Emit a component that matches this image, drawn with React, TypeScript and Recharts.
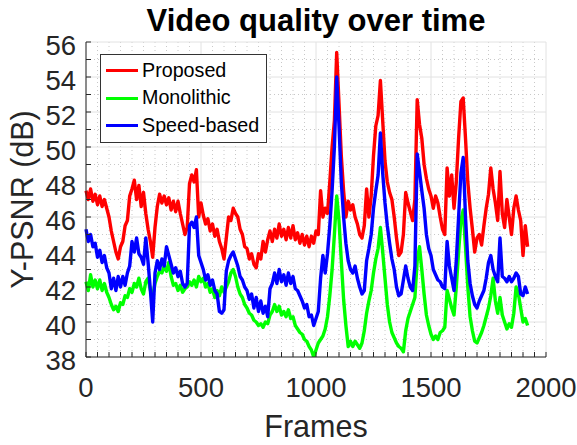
import React from 'react';
import { LineChart, Line, XAxis, YAxis, CartesianGrid, Legend } from 'recharts';

// frame index of every sample (one sample per 10 frames)
const FRAMES = Array.from({ length: 193 }, (_, i) => i * 10);

const PROPOSED = [
  47.5, 47.0, 47.6, 46.9, 47.3, 46.7, 47.2, 46.6, 47.0, 46.5,
  46.0, 45.2, 44.6, 44.0, 43.6, 44.3, 44.6, 45.5, 45.8, 47.2,
  47.6, 48.1, 47.0, 47.8, 46.6, 47.4, 46.2, 45.3, 44.6, 43.7,
  45.4, 46.6, 47.3, 46.8, 47.2, 46.7, 47.1, 46.4, 46.9, 46.3,
  46.9, 46.2, 45.6, 45.0, 45.4, 47.9, 48.4, 48.0, 48.7, 46.0,
  46.8, 46.1, 45.6, 45.9, 45.2, 45.6, 44.9, 45.3, 44.6, 44.2,
  43.6, 44.8, 46.0, 45.8, 46.5, 46.2, 46.0, 45.3, 45.0, 44.3,
  44.2, 43.6, 43.9, 43.3, 43.1, 43.9, 43.6, 44.6, 44.0, 44.7,
  45.2, 44.6, 45.3, 44.8, 45.6, 44.9, 45.3, 44.7, 45.4, 44.8,
  45.5, 44.7, 45.1, 44.5, 45.0, 44.4, 44.9, 44.3, 44.9, 44.5,
  45.2, 45.0, 47.5, 46.0, 46.5, 46.2, 48.0, 50.0, 51.5, 55.4,
  52.5, 49.5, 47.5, 46.0, 46.9, 46.4, 46.7, 46.0, 45.6, 45.0,
  44.8, 45.5, 47.6, 46.0, 47.2, 49.5, 51.2, 51.8, 53.8, 51.5,
  49.2, 48.0, 47.4, 47.0, 46.0, 44.8, 43.8, 44.0, 45.0, 47.4,
  46.8, 46.3, 45.8, 47.0, 52.7, 51.3, 50.5, 49.0, 48.2, 47.6,
  47.2, 46.5, 47.2, 46.8, 46.0, 45.3, 45.0, 48.8, 47.2, 48.4,
  46.5, 48.0, 50.5, 52.6, 52.8, 50.5, 48.0, 46.5, 45.3, 44.0,
  44.8, 45.0, 44.4, 45.5, 46.5, 47.3, 48.8, 47.6, 46.8, 45.8,
  48.6, 46.2, 45.4, 47.0, 46.0, 45.0, 46.5, 47.2, 46.4, 45.8,
  43.8, 45.5, 44.3,
];

const MONOLITHIC = [
  42.3, 41.8, 42.7, 42.0, 42.4, 41.9, 42.4, 41.8, 42.2, 41.7,
  41.4, 41.0, 40.7, 40.9, 40.6, 41.1, 41.0, 41.5, 41.4, 41.9,
  41.7, 42.2, 42.0, 42.5, 41.9, 41.6, 42.3, 42.5, 41.8, 41.5,
  42.2, 42.6, 42.9, 42.8, 43.2, 42.9, 43.4, 42.6, 42.1, 42.2,
  41.8, 42.1, 41.7, 41.9, 42.0, 42.3, 42.1, 42.4, 42.0, 42.6,
  42.3, 42.5, 42.0, 42.2, 41.7, 41.9, 41.4, 41.8, 41.5, 42.0,
  41.7, 42.0, 42.3, 42.8, 43.0, 42.6, 42.0, 41.6, 41.4, 41.0,
  40.8, 40.5, 40.4, 40.1, 40.0, 39.8, 39.9, 39.7, 40.0, 39.9,
  40.4, 40.6, 41.0, 40.6, 40.9, 40.4, 40.6, 40.3, 40.7, 40.2,
  40.3, 39.8, 39.6, 39.4, 39.3, 39.0, 38.9, 38.6, 38.4, 38.0,
  38.4, 38.8, 39.0, 39.2, 39.6, 40.3, 41.5, 43.0, 45.0, 47.2,
  45.8, 43.5, 41.3, 39.8, 38.6, 38.9, 38.6, 38.9, 38.7, 38.5,
  38.8, 39.5, 40.5, 41.2, 41.8, 42.8, 43.6, 44.2, 45.4, 44.0,
  42.5, 41.0, 40.0, 39.4, 39.1, 38.8, 38.6, 38.5, 38.3, 39.5,
  40.2, 40.6, 41.0, 41.4, 43.5, 44.3, 43.0, 41.6, 40.4, 39.8,
  39.3, 39.0, 39.2, 39.0, 39.4, 39.5, 39.7, 41.8, 41.3, 40.8,
  40.4, 42.0, 44.0, 45.8, 46.4, 44.3, 42.0, 40.3, 39.5, 38.9,
  38.8, 39.1, 39.4, 39.8, 40.3, 40.8, 41.5, 42.5, 41.2, 40.5,
  41.4, 40.4, 40.0, 39.6, 39.9, 39.7, 40.5, 42.0, 41.6, 40.8,
  40.0, 40.2, 39.8,
];

const SPEED_BASED = [
  45.3, 44.6, 45.0, 44.3, 44.5, 43.7, 44.1, 43.4, 43.8, 43.1,
  42.8, 41.9, 42.5, 41.8, 42.6, 42.0, 42.6, 42.1, 42.8, 43.2,
  44.6, 44.0, 44.8, 43.9, 43.7, 43.3, 44.8, 43.4, 41.8, 40.0,
  42.8, 43.5, 43.0, 43.6, 43.2, 44.3, 43.8, 43.3, 42.8, 43.1,
  42.6, 42.9, 42.2, 42.0, 42.2, 45.5, 45.7, 45.4, 46.0, 43.8,
  43.4, 43.0, 42.4, 42.7, 42.1, 42.4, 41.8, 41.6, 40.6, 40.5,
  40.7, 42.9, 43.5, 43.8, 44.0, 43.6, 43.2, 42.6, 42.4, 42.0,
  41.8, 41.3, 41.6, 40.8, 41.4, 40.6, 41.2, 40.5, 40.9, 40.3,
  41.9, 42.2, 42.8, 42.2, 43.0, 42.3, 42.7, 42.1, 42.8, 42.2,
  42.6, 41.9, 41.8, 41.5, 41.2, 40.8, 41.0, 40.3, 40.4, 39.8,
  40.2, 40.6, 42.5, 43.8, 42.8, 43.9, 45.5, 47.5, 50.0, 54.0,
  51.2, 48.0, 46.0, 44.5, 43.5, 43.0, 42.8, 43.2, 42.5, 42.0,
  41.6, 41.8, 43.5, 44.2, 45.0, 46.5, 47.5, 48.4, 50.8, 48.5,
  46.8, 45.5, 44.5, 43.6, 43.0, 42.0, 41.5, 41.6, 42.4, 43.2,
  42.5, 42.0, 41.8, 43.2, 49.6, 48.6, 47.5, 46.5, 45.0, 44.2,
  43.8, 43.0, 42.7, 42.4, 42.3, 42.0, 41.9, 44.6, 43.2, 42.5,
  41.8, 43.5, 46.0, 48.5, 49.4, 46.0, 43.5, 42.2, 41.5, 41.0,
  40.8, 41.2, 41.5, 41.8, 42.5, 43.4, 43.8, 43.0, 42.6, 42.3,
  44.8, 42.6, 42.5, 42.3, 42.6, 42.3, 42.5, 42.8, 42.6, 41.6,
  41.5, 42.0, 41.6,
];

const X_MAJOR = [0, 500, 1000, 1500, 2000];
const X_TICKS = Array.from({ length: 41 }, (_, i) => i * 50);
const X_MINOR = X_TICKS.filter((v) => v % 500 !== 0);
const Y_MAJOR = [38, 40, 42, 44, 46, 48, 50, 52, 54, 56];
const Y_TICKS = Array.from({ length: 19 }, (_, i) => 38 + i);
const Y_MINOR = Y_TICKS.filter((v) => v % 2 !== 0);

const SERIES = [
  { key: 'proposed', name: 'Proposed', color: '#ff0000' },
  { key: 'monolithic', name: 'Monolithic', color: '#00ff00' },
  { key: 'speed', name: 'Speed-based', color: '#0000ff' },
];
const SERIES_ORDER = SERIES.map((s) => s.name);

const data = FRAMES.map((frame, i) => ({
  frame,
  proposed: PROPOSED[i],
  monolithic: MONOLITHIC[i],
  speed: SPEED_BASED[i],
}));

const FONT = '"Liberation Sans", Arial, Helvetica, sans-serif';
const INK = '#262626';

function XTick({ x, y, payload }: any) {
  const v = payload.value;
  return (
    <g>
      <line x1={x} x2={x} y1={y} y2={y - 5} stroke={INK} strokeWidth={1} />
      {v % 500 === 0 && (
        <text x={x} y={y + 20} dy="0.71em" textAnchor="middle" fontSize={27.5} fill={INK} fontFamily={FONT}>
          {v}
        </text>
      )}
    </g>
  );
}

function YTick({ x, y, payload }: any) {
  const v = payload.value;
  return (
    <g>
      <line x1={x} x2={x + 5} y1={y} y2={y} stroke={INK} strokeWidth={1} />
      {v % 2 === 0 && (
        <text x={x - 10} y={y} dy="0.46em" textAnchor="end" fontSize={27.5} fill={INK} fontFamily={FONT}>
          {v}
        </text>
      )}
    </g>
  );
}

function LegendBox({ payload }: any) {
  const items = [...(payload || [])].sort(
    (a: any, b: any) => SERIES_ORDER.indexOf(a.value) - SERIES_ORDER.indexOf(b.value)
  );
  return (
    <div
      style={{
        width: 165,
        height: 85,
        border: '1px solid #333',
        background: '#fff',
        boxSizing: 'content-box',
        paddingTop: 2,
      }}
    >
      {items.map((p: any) => (
        <div key={p.value} style={{ display: 'flex', alignItems: 'center', height: 27.5 }}>
          <span style={{ display: 'inline-block', width: 32, height: 3, background: p.color, marginLeft: 5, marginRight: 4 }} />
          <span style={{ fontFamily: FONT, fontSize: 19.7, color: '#000', lineHeight: 1 }}>{p.value}</span>
        </div>
      ))}
    </div>
  );
}

export default function App() {
  return (
    <div style={{ position: 'absolute', left: 0, top: 0, width: 577, height: 445, background: '#fff' }}>
      <LineChart width={577} height={445} data={data} margin={{ top: 42, right: 31, bottom: 0, left: 0 }}>
        <CartesianGrid
          verticalValues={X_MINOR}
          horizontalValues={Y_MINOR}
          stroke="#c8c8c8"
          strokeDasharray="1 3"
        />
        <CartesianGrid verticalValues={X_MAJOR} horizontalValues={Y_MAJOR} stroke="#e2e2e2" />
        <XAxis
          dataKey="frame"
          type="number"
          domain={[0, 2000]}
          ticks={X_TICKS}
          interval={0}
          height={88}
          tickSize={0}
          tickMargin={0}
          tick={<XTick />}
          axisLine={{ stroke: INK }}
          tickLine={false}
        />
        <YAxis
          type="number"
          domain={[38, 56]}
          ticks={Y_TICKS}
          interval={0}
          width={86}
          tickSize={0}
          tickMargin={0}
          tick={<YTick />}
          axisLine={{ stroke: INK }}
          tickLine={false}
          allowDataOverflow
        />
        <Legend
          layout="vertical"
          align="center"
          verticalAlign="middle"
          wrapperStyle={{ left: 100, top: 54, width: 'auto' }}
          content={<LegendBox />}
        />
        {SERIES.map((s) => (
          <Line
            key={s.key}
            type="linear"
            dataKey={s.key}
            name={s.name}
            stroke={s.color}
            strokeWidth={3.4}
            strokeLinejoin="round"
            dot={false}
            activeDot={false}
            isAnimationActive={false}
          />
        ))}
      </LineChart>
      <svg width={577} height={445} style={{ position: 'absolute', left: 0, top: 0, pointerEvents: 'none' }}>
        <text x={316} y={31} textAnchor="middle" fontSize={31} fontWeight="bold" fill="#000" fontFamily={FONT}>
          Video quality over time
        </text>
        <text x={316} y={437} textAnchor="middle" fontSize={30.5} fill={INK} fontFamily={FONT}>
          Frames
        </text>
        <text
          transform="translate(33,199.5) rotate(-90)"
          textAnchor="middle"
          fontSize={30.5}
          fill={INK}
          fontFamily={FONT}
        >
          Y-PSNR (dB)
        </text>
      </svg>
    </div>
  );
}
